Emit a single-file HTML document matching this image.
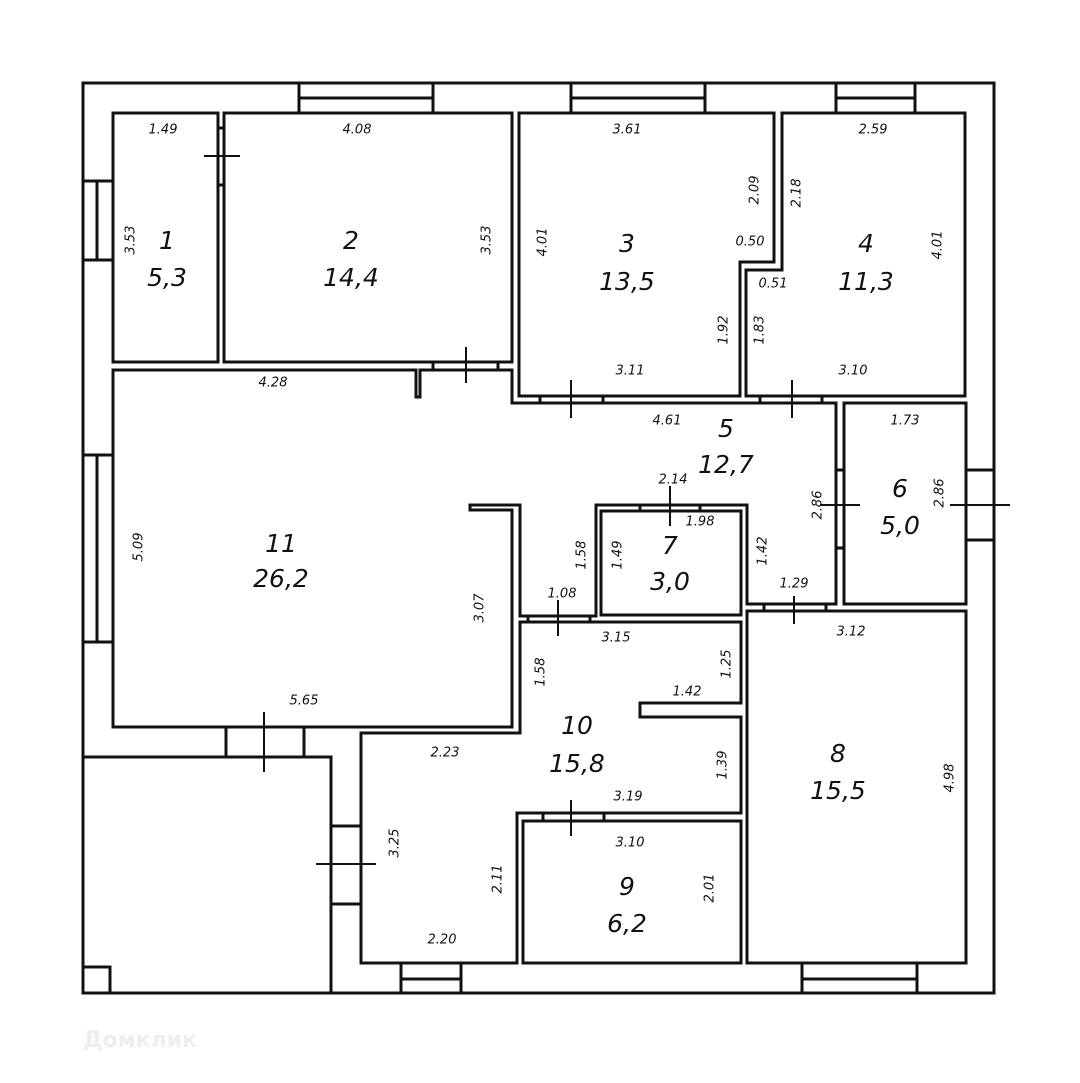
<!DOCTYPE html>
<html><head><meta charset="utf-8"><style>
html,body{margin:0;padding:0;background:#fff}
svg{display:block}
text{font-family:"DejaVu Sans","Liberation Sans",sans-serif;font-style:italic;fill:#111;text-anchor:middle;dominant-baseline:middle}
.r{font-size:25px}
.d{font-size:13px}
</style></head><body>
<svg width="1080" height="1083" viewBox="0 0 1080 1083" xmlns="http://www.w3.org/2000/svg">
<g fill="none" stroke="#111" stroke-width="3">
<rect x="83" y="83" width="911" height="910"/>
<!-- top windows -->
<path d="M299 83V113M433 83V113M299 98H433"/>
<path d="M571 83V113M705 83V113M571 98H705"/>
<path d="M836 83V113M915 83V113M836 98H915"/>
<!-- left windows -->
<path d="M83 181H113M83 260H113M97 181V260"/>
<path d="M83 455H113M83 642H113M97 455V642"/>
<!-- right window -->
<path d="M965 470H994M965 540H994"/>
<!-- bottom windows -->
<path d="M401 963V993M461 963V993M401 979H461"/>
<path d="M802 963V993M917 963V993M802 979H917"/>
<!-- bottom-left area -->
<path d="M83 757H331V993"/>
<rect x="83" y="967" width="27" height="26"/>
<path d="M226 727V757M304 727V757"/>
<path d="M331 826H361M331 904H361"/>
<!-- rooms -->
<rect x="113" y="113" width="105" height="249"/>
<rect x="224" y="113" width="288" height="249"/>
<path d="M519 113H774V262H740V396H519Z"/>
<path d="M782 113H965V396H746V270H782Z"/>
<path d="M113 370H416V397H420V370H512V403H836V604H747V505H596V616H520V505H470V510H512V727H113Z"/>
<rect x="601" y="511" width="140" height="104"/>
<rect x="844" y="403" width="122" height="201"/>
<path d="M361 733H520V622H741V703H640V717H741V813H517V963H361Z"/>
<rect x="523" y="821" width="218" height="142"/>
<rect x="747" y="611" width="219" height="352"/>
<!-- door gaps -->
<path d="M218 128H224M218 185H224M433 362V370M498 362V370M540 396V403M603 396V403M760 396V403M822 396V403M836 470H844M836 548H844M528 616V622M590 616V622M764 604V611M826 604V611M543 813V821M604 813V821M640 505V511M700 505V511"/>
</g>
<!-- door markers -->
<g stroke="#111" stroke-width="2">
<path d="M204 156H240M466 347V383M571 380V418M792 380V418M820 505H860M950 505H1010M670 486V526M558 600V636M794 596V624M264 712V772M316 864H376M571 800V836"/>
</g>
<g>
<text class="r" x="167" y="242">1</text><text class="r" x="167" y="279">5,3</text>
<text class="r" x="351" y="242">2</text><text class="r" x="351" y="279">14,4</text>
<text class="r" x="627" y="245">3</text><text class="r" x="627" y="283">13,5</text>
<text class="r" x="866" y="245">4</text><text class="r" x="866" y="283">11,3</text>
<text class="r" x="726" y="430">5</text><text class="r" x="726" y="466">12,7</text>
<text class="r" x="900" y="490">6</text><text class="r" x="900" y="527">5,0</text>
<text class="r" x="670" y="547">7</text><text class="r" x="670" y="583">3,0</text>
<text class="r" x="281" y="545">11</text><text class="r" x="281" y="580">26,2</text>
<text class="r" x="577" y="727">10</text><text class="r" x="577" y="765">15,8</text>
<text class="r" x="838" y="755">8</text><text class="r" x="838" y="792">15,5</text>
<text class="r" x="627" y="888">9</text><text class="r" x="627" y="925">6,2</text>
</g>
<g class="d">
<text class="d" x="163" y="130">1.49</text>
<text class="d" x="357" y="130">4.08</text>
<text class="d" x="627" y="130">3.61</text>
<text class="d" x="873" y="130">2.59</text>
<text class="d" x="273" y="383">4.28</text>
<text class="d" x="630" y="371">3.11</text>
<text class="d" x="853" y="371">3.10</text>
<text class="d" x="667" y="421">4.61</text>
<text class="d" x="905" y="421">1.73</text>
<text class="d" x="673" y="480">2.14</text>
<text class="d" x="700" y="522">1.98</text>
<text class="d" x="562" y="594">1.08</text>
<text class="d" x="794" y="584">1.29</text>
<text class="d" x="616" y="638">3.15</text>
<text class="d" x="851" y="632">3.12</text>
<text class="d" x="687" y="692">1.42</text>
<text class="d" x="304" y="701">5.65</text>
<text class="d" x="445" y="753">2.23</text>
<text class="d" x="628" y="797">3.19</text>
<text class="d" x="630" y="843">3.10</text>
<text class="d" x="442" y="940">2.20</text>
<text class="d" x="750" y="242">0.50</text>
<text class="d" x="773" y="284">0.51</text>
<text class="d" transform="translate(131,240) rotate(-90)">3.53</text>
<text class="d" transform="translate(487,240) rotate(-90)">3.53</text>
<text class="d" transform="translate(543,242) rotate(-90)">4.01</text>
<text class="d" transform="translate(755,190) rotate(-90)">2.09</text>
<text class="d" transform="translate(797,193) rotate(-90)">2.18</text>
<text class="d" transform="translate(938,245) rotate(-90)">4.01</text>
<text class="d" transform="translate(724,330) rotate(-90)">1.92</text>
<text class="d" transform="translate(760,330) rotate(-90)">1.83</text>
<text class="d" transform="translate(139,547) rotate(-90)">5.09</text>
<text class="d" transform="translate(818,505) rotate(-90)">2.86</text>
<text class="d" transform="translate(940,493) rotate(-90)">2.86</text>
<text class="d" transform="translate(582,555) rotate(-90)">1.58</text>
<text class="d" transform="translate(618,555) rotate(-90)">1.49</text>
<text class="d" transform="translate(763,551) rotate(-90)">1.42</text>
<text class="d" transform="translate(480,608) rotate(-90)">3.07</text>
<text class="d" transform="translate(541,672) rotate(-90)">1.58</text>
<text class="d" transform="translate(727,664) rotate(-90)">1.25</text>
<text class="d" transform="translate(723,765) rotate(-90)">1.39</text>
<text class="d" transform="translate(395,843) rotate(-90)">3.25</text>
<text class="d" transform="translate(498,879) rotate(-90)">2.11</text>
<text class="d" transform="translate(710,888) rotate(-90)">2.01</text>
<text class="d" transform="translate(950,778) rotate(-90)">4.98</text>
</g>
<text x="140" y="1041" style="font-style:normal;font-size:22px;fill:#eee;font-weight:bold">Домклик</text>
</svg>
</body></html>
